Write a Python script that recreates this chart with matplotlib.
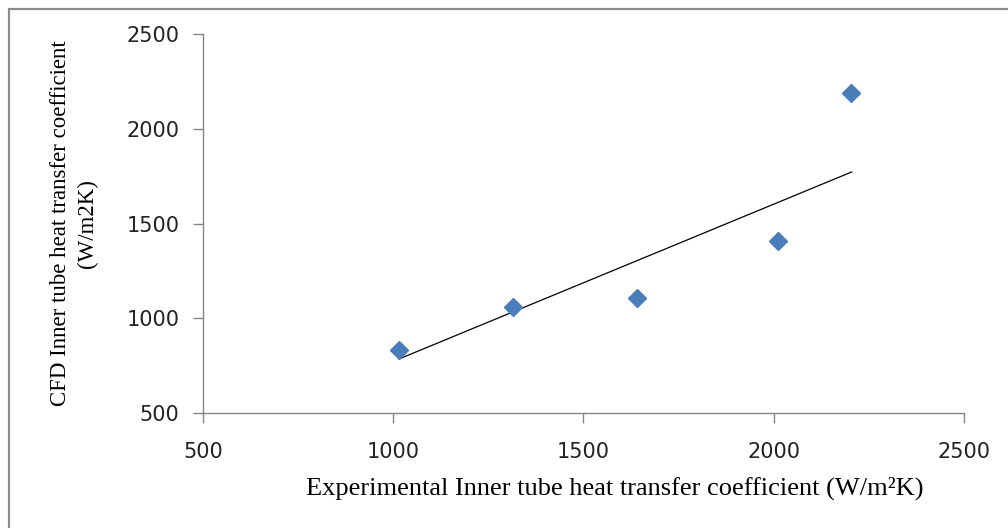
import matplotlib
matplotlib.use("Agg")
import matplotlib.pyplot as plt
from matplotlib.patches import Rectangle

# data
exp_h = [1015, 1315, 1641, 2011, 2203]
cfd_h = [832, 1059, 1107, 1408, 2189]
trend_x = [1015, 2205]
trend_y = [785, 1772]
ticks = [500, 1000, 1500, 2000, 2500]

fig = plt.figure(figsize=(10.08, 5.28), dpi=100)
ax = fig.add_axes([0.2014, 0.2178, 0.7549, 0.7178])

ax.plot(trend_x, trend_y, color="black", lw=0.9, zorder=2)
ax.plot(exp_h, cfd_h, linestyle="none", marker="D", ms=9.5,
        color="#4a7ebb", mec="#4a7ebb", zorder=3)

ax.set_xlim(500, 2500)
ax.set_ylim(500, 2500)
ax.set_xticks(ticks)
ax.set_yticks(ticks)

gray = "#868686"
for s in ["top", "right"]:
    ax.spines[s].set_visible(False)
for s in ["left", "bottom"]:
    ax.spines[s].set_color(gray)
    ax.spines[s].set_linewidth(1.0)
ax.tick_params(direction="out", length=7, width=1.0, color=gray,
               labelsize=15, labelcolor="#222222", pad=10)
ax.tick_params(axis="x", pad=14)

ax.set_xlabel("Experimental Inner tube heat transfer coefficient (W/m²K)",
              family="Liberation Serif", fontsize=19)
ax.xaxis.set_label_coords(0.541, -0.168)
ax.set_ylabel("CFD Inner tube heat transfer coefficient\n(W/m2K)",
              family="Liberation Serif", fontsize=16.5, linespacing=1.35)
ax.yaxis.set_label_coords(-0.138, 0.5)

# outer chart frame
fig.patches.append(Rectangle((9 / 1008, -0.1), 1.2, 1.1 - 9 / 528,
                             transform=fig.transFigure, fill=False,
                             edgecolor="#8c8c8c", lw=1.6))

fig.savefig("out.png", dpi=100)
